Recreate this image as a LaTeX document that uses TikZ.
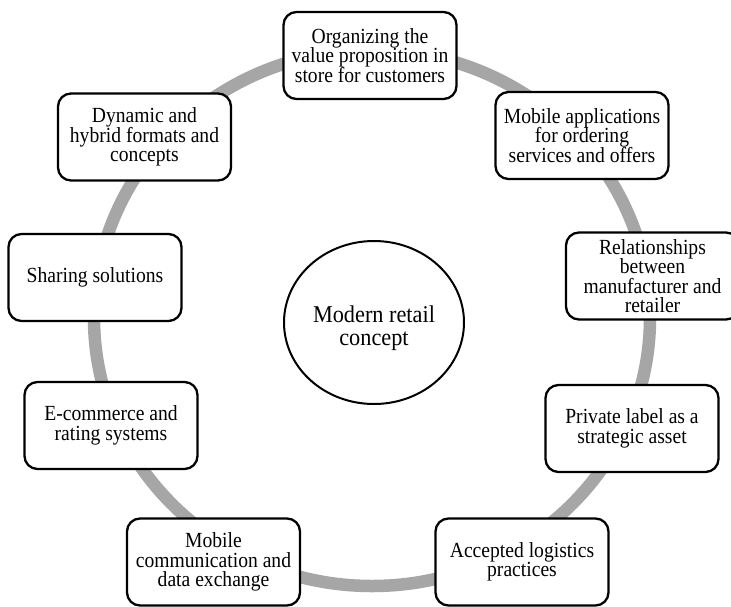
\documentclass[tikz,border=0pt]{standalone}
\usepackage{fontspec}
\usepackage{graphicx}
\setmainfont{Liberation Serif}
\usetikzlibrary{shapes.geometric}
\definecolor{ringgray}{HTML}{A6A6A6}
\newcommand{\boxtxt}[1]{\scalebox{1}[1.1]{\parbox{172pt}{\centering\baselineskip=17.7pt\lineskiplimit=-100pt #1\par}}}
\newcommand{\hubtxt}[1]{\scalebox{1}[1.08]{\parbox{126pt}{\vspace*{10pt}\centering\baselineskip=21.5pt\lineskiplimit=-100pt #1\par}}}
\tikzset{
  itembox/.style={draw=black, line width=2.3pt, fill=white, rectangle, rounded corners=13pt,
    minimum width=173pt, minimum height=87pt, inner sep=0pt,
    font=\fontsize{19.6}{17.7}\selectfont},
  hubnode/.style={draw=black, line width=2pt, fill=white, ellipse, minimum width=180pt,
    minimum height=163pt, inner sep=0pt, font=\fontsize{22.3}{21.5}\selectfont},
  ringline/.style={draw=ringgray, line width=12.5pt}
}
\begin{document}
\begin{tikzpicture}[x=1pt, y=-1pt]
\useasboundingbox (0,0) rectangle (731,606);
\fill[white] (0,0) rectangle (731,606);
\draw[ringline] (372,318) ellipse [x radius=278, y radius=268];
\node[hubnode] (hub) at (374,322.5) {\hubtxt{Modern retail\\concept}};
\node[itembox] (top) at (370,55.5) {\boxtxt{Organizing the\\value proposition in\\store for customers}};
\node[itembox] (mobapp) at (582,135.5) {\boxtxt{Mobile applications\\for ordering\\services and offers}};
\node[itembox] (rel) at (652.5,276) {\boxtxt{Relationships\\between\\manufacturer and\\retailer}};
\node[itembox] (priv) at (632,428.5) {\boxtxt{Private label as a\\strategic asset}};
\node[itembox] (acc) at (522,562) {\boxtxt{Accepted logistics\\practices}};
\node[itembox] (mobcomm) at (213.5,562) {\boxtxt{Mobile\\communication and\\data exchange}};
\node[itembox] (ecom) at (111,425.5) {\boxtxt{E-commerce and\\rating systems}};
\node[itembox] (share) at (95,277.5) {\boxtxt{Sharing solutions}};
\node[itembox] (dyn) at (144.5,137) {\boxtxt{Dynamic and\\hybrid formats and\\concepts}};
\end{tikzpicture}
\end{document}
